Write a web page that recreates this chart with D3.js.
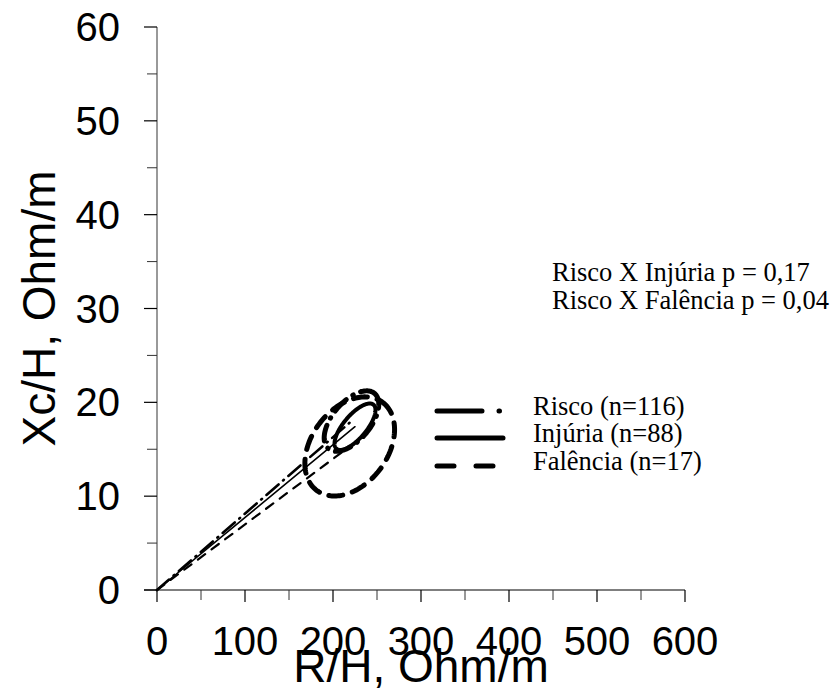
<!DOCTYPE html>
<html>
<head>
<meta charset="utf-8">
<script src="https://cdn.jsdelivr.net/npm/d3@7"></script>
<style>
  html, body { margin: 0; padding: 0; background: #fff; }
  svg { display: block; }
</style>
</head>
<body>
<div id="chart"></div>
<script>
// Groups and their mean impedance vectors (R/H, Xc/H in Ohm/m)
const groups      = ["Risco (n=116)", "Injúria (n=88)", "Falência (n=17)"];
const meanR       = [221, 225, 219];
const meanXc      = [18.0, 17.4, 15.3];
// 95% confidence ellipses: semi-axis vectors in data units
const majorR      = [26.2, 21.0, 37.5];
const majorXc     = [2.95, 2.35, 4.69];
const minorR      = [16.6, 10.0, 34.5];
const minorXc     = [-1.3, -0.78, -2.43];
// Axis ticks
const xTicks      = [0, 100, 200, 300, 400, 500, 600];
const xMinorTicks = [50, 150, 250, 350, 450, 550];
const yTicks      = [0, 10, 20, 30, 40, 50, 60];
const yMinorTicks = [5, 15, 25, 35, 45, 55];
// Comparison notes
const notes       = ["Risco X Injúria p = 0,17", "Risco X Falência p = 0,04"];

const W = 836, H = 695;
const svg = d3.select("#chart").append("svg")
  .attr("width", W).attr("height", H)
  .attr("viewBox", `0 0 ${W} ${H}`);

const x = d3.scaleLinear().domain([0, 600]).range([157, 685]);
const y = d3.scaleLinear().domain([0, 60]).range([590, 27]);

const sans = "'Liberation Sans', Arial, sans-serif";
const serif = "'Liberation Serif', 'Times New Roman', serif";

// Line styles per group
const ellipseDash = ["16,8,0.5,8", null, "14,10"];
const ellipseWidth = [5, 4, 5];
const vecDash = ["16,6,1,6", null, "9,8"];
const vecWidth = [2.6, 1.6, 2.2];

// Y axis
const yAxis = svg.append("g").attr("transform", `translate(${x(0)},0)`);
yAxis.append("line").attr("x1", 0).attr("x2", 0).attr("y1", y(0)).attr("y2", y(60))
  .attr("stroke", "#555").attr("stroke-width", 1.2);
yAxis.selectAll(".ymaj").data(yTicks).join("line")
  .attr("x1", -13).attr("x2", 0).attr("y1", d => y(d)).attr("y2", d => y(d))
  .attr("stroke", "#000").attr("stroke-width", 1.2);
yAxis.selectAll(".ymin").data(yMinorTicks).join("line")
  .attr("x1", -10).attr("x2", 0).attr("y1", d => y(d)).attr("y2", d => y(d))
  .attr("stroke", "#333").attr("stroke-width", 1);
yAxis.selectAll("text").data(yTicks).join("text")
  .attr("x", -37).attr("y", d => y(d) + 14)
  .attr("text-anchor", "end")
  .style("font-family", sans).style("font-size", "40px")
  .text(d => d);

// X axis
const xAxis = svg.append("g").attr("transform", `translate(0,${y(0)})`);
xAxis.append("line").attr("x1", x(0) - 13).attr("x2", x(600)).attr("y1", 0).attr("y2", 0)
  .attr("stroke", "#000").attr("stroke-width", 1.2);
xAxis.selectAll(".xmaj").data(xTicks).join("line")
  .attr("x1", d => x(d)).attr("x2", d => x(d)).attr("y1", 0).attr("y2", 12)
  .attr("stroke", "#000").attr("stroke-width", 1.2);
xAxis.selectAll(".xmin").data(xMinorTicks).join("line")
  .attr("x1", d => x(d)).attr("x2", d => x(d)).attr("y1", 0).attr("y2", 10)
  .attr("stroke", "#333").attr("stroke-width", 1);
xAxis.selectAll("text").data(xTicks).join("text")
  .attr("x", d => x(d)).attr("y", 65)
  .attr("text-anchor", "middle")
  .style("font-family", sans).style("font-size", "40px")
  .text(d => d);

// Axis titles
svg.append("text")
  .attr("x", (x(0) + x(600)) / 2).attr("y", 682)
  .attr("text-anchor", "middle")
  .style("font-family", sans).style("font-size", "46px")
  .text("R/H, Ohm/m");
svg.append("text")
  .attr("transform", `translate(55,${(y(0) + y(60)) / 2}) rotate(-90)`)
  .attr("text-anchor", "middle")
  .style("font-family", sans).style("font-size", "46px")
  .text("Xc/H, Ohm/m");

// Mean vectors from the origin
const plot = svg.append("g");
groups.forEach((g, i) => {
  plot.append("line")
    .attr("x1", x(0)).attr("y1", y(0))
    .attr("x2", x(meanR[i])).attr("y2", y(meanXc[i]))
    .attr("stroke", "#000")
    .attr("stroke-width", vecWidth[i])
    .attr("stroke-dasharray", vecDash[i])
    .attr("stroke-linecap", "round");
});

// Confidence ellipses around each mean
const ellipseLine = d3.line().x(d => x(d[0])).y(d => y(d[1])).curve(d3.curveLinearClosed);
groups.forEach((g, i) => {
  const pts = d3.range(0, 360, 2).map(a => {
    const t = a * Math.PI / 180;
    return [meanR[i] + majorR[i] * Math.cos(t) + minorR[i] * Math.sin(t),
            meanXc[i] + majorXc[i] * Math.cos(t) + minorXc[i] * Math.sin(t)];
  });
  plot.append("path")
    .attr("d", ellipseLine(pts))
    .attr("fill", "none")
    .attr("stroke", "#000")
    .attr("stroke-width", ellipseWidth[i])
    .attr("stroke-dasharray", ellipseDash[i])
    .attr("stroke-linecap", "round");
});

// Legend
const legendDash = ["45,17,0.5,30", null, "17,22"];
const legendY = [411, 438, 466];
const legend = svg.append("g");
groups.forEach((g, i) => {
  legend.append("line")
    .attr("x1", 437).attr("x2", 503)
    .attr("y1", legendY[i]).attr("y2", legendY[i])
    .attr("stroke", "#000").attr("stroke-width", 5)
    .attr("stroke-dasharray", legendDash[i])
    .attr("stroke-linecap", "round");
  legend.append("text")
    .attr("x", 533).attr("y", legendY[i] + 4)
    .style("font-family", serif).style("font-size", "26.5px")
    .text(g);
});

// Notes
notes.forEach((n, i) => {
  svg.append("text")
    .attr("x", 552).attr("y", 281 + i * 28)
    .style("font-family", serif).style("font-size", "26.5px")
    .text(n);
});
</script>
</body>
</html>
